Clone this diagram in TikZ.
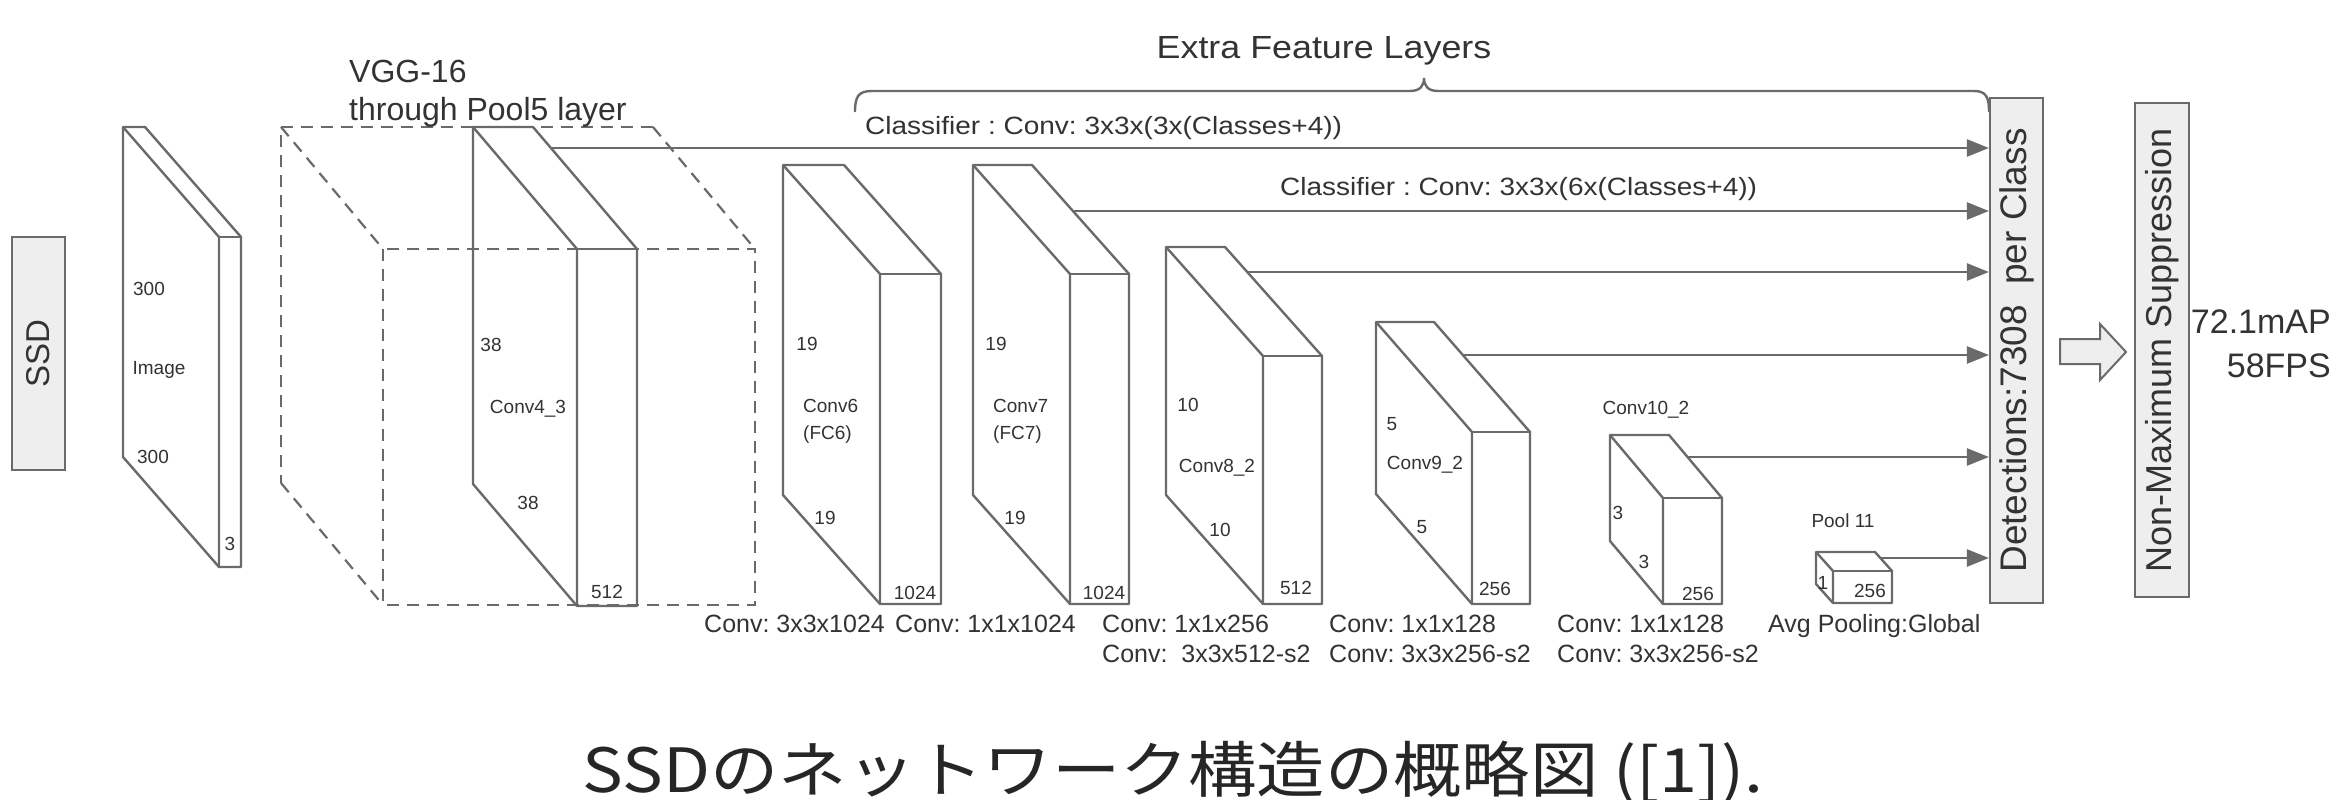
\documentclass[tikz,border=0pt]{standalone}
\usepackage{fontspec}
\setmainfont{Liberation Sans}
\newfontfamily\jpfont{Noto Sans CJK JP}
\usepackage{graphicx}
\usetikzlibrary{arrows.meta}
\definecolor{lnc}{HTML}{6A6A6A}
\definecolor{txc}{HTML}{333333}
\definecolor{boxfill}{HTML}{EEEEEE}
\newcommand\fs[1]{\fontsize{#1}{#1}\selectfont}
\newcommand\wide[1]{\scalebox{1.12}[1]{#1}}
% slab: xl, yt, w, dx, dy, yb
\newcommand\myslab[6]{%
  \draw[slabline] (#1,#2) -- (#1,#6) -- ({#1+#4},{#6+#5}) -- ({#1+#4+#3},{#6+#5})
     -- ({#1+#4+#3},{#2+#5}) -- ({#1+#3},#2) -- cycle;
  \draw[slabline] (#1,#2) -- ({#1+#4},{#2+#5}) -- ({#1+#4},{#6+#5});
  \draw[slabline] ({#1+#4},{#2+#5}) -- ({#1+#4+#3},{#2+#5});
}
\begin{document}
\frenchspacing
\begin{tikzpicture}[x=1pt,y=-1pt,
  slabline/.style={draw=lnc,line width=2.4pt,line join=round},
  dsh/.style={draw=lnc,line width=2.2pt,dash pattern=on 12pt off 8pt},
  conn/.style={draw=lnc,line width=2.6pt,-{Triangle[length=22pt,width=17pt]}},
  smalllab/.style={text=txc,font=\fs{19},inner sep=0pt,anchor=base},
  lab/.style={text=txc,font=\fs{25},inner sep=0pt,anchor=base west},
  side/.style={draw=lnc,fill=boxfill,line width=2.2pt,inner sep=0pt,text=txc},
]
\fill[white] (0,0) rectangle (2335,800);
\useasboundingbox (0,0) rectangle (2335,800);

% side boxes
\node[side, minimum width=53pt, minimum height=233pt, font=\fs{33}] (ssd) at (38.5,353.5) {\rotatebox{90}{SSD}};
\node[side, minimum width=53pt, minimum height=505pt, font=\fs{37}] (det) at (2016.5,350.5) {\rotatebox{90}{Detections:7308\ \ per Class}};
\node[side, minimum width=54pt, minimum height=494pt, font=\fs{36}] (nms) at (2162,350) {\rotatebox{90}{Non-Maximum Suppression}};
\node[text=txc, font=\fs{34}, align=right, anchor=east, inner sep=0pt] (perf) at (2331,344) {72.1mAP\\[10pt]58FPS};

% hollow arrow
\draw[draw=lnc, fill=boxfill, line width=2pt, line join=miter]
  (2060,339) -- (2100,339) -- (2100,324) -- (2126,352) -- (2100,380) -- (2100,364) -- (2060,364) -- cycle;

% VGG dashed cube
\draw[dsh] (653,127) -- (281,127) -- (281,483);
\draw[dsh] (281,127) -- (383,249);
\draw[dsh] (653,127) -- (755,249);
\draw[dsh] (281,483) -- (383,605);
\draw[dsh] (383,249) rectangle (755,605);
\node[text=txc, font=\fs{32}, anchor=base west, inner sep=0pt] (vgg1) at (349,82) {VGG-16};
\node[text=txc, font=\fs{32}, anchor=base west, inner sep=0pt] (vgg2) at (349,120) {through Pool5 layer};

% slabs
\myslab{123}{127}{22}{96}{110}{457}
\myslab{473}{127}{60}{104}{122}{484}
\myslab{783}{165}{61}{97}{109}{495}
\myslab{973}{165}{59}{97}{109}{495}
\myslab{1166}{247}{59}{97}{109}{495}
\myslab{1376}{322}{58}{96}{110}{494}
\myslab{1610}{435}{59}{53}{63}{541}
\myslab{1816}{552}{59}{17}{19}{584}

% slab labels
\node[smalllab] (i300a) at (149,295) {300};
\node[smalllab] (iimg) at (159,374) {Image};
\node[smalllab] (i300b) at (153,463) {300};
\node[smalllab] (i3) at (230,550) {3};

\node[smalllab] (c4a) at (491,351) {38};
\node[smalllab] (c4n) at (528,413) {Conv4\_3};
\node[smalllab] (c4b) at (528,509) {38};
\node[smalllab] (c4c) at (607,598) {512};

\node[smalllab] (c6a) at (807,350) {19};
\node[smalllab, anchor=base west] (c6n) at (803,412) {Conv6};
\node[smalllab, anchor=base west] (c6f) at (803,439) {(FC6)};
\node[smalllab] (c6b) at (825,524) {19};
\node[smalllab] (c6c) at (915,599) {1024};

\node[smalllab] (c7a) at (996,350) {19};
\node[smalllab, anchor=base west] (c7n) at (993,412) {Conv7};
\node[smalllab, anchor=base west] (c7f) at (993,439) {(FC7)};
\node[smalllab] (c7b) at (1015,524) {19};
\node[smalllab] (c7c) at (1104,599) {1024};

\node[smalllab] (c8a) at (1188,411) {10};
\node[smalllab] (c8n) at (1217,472) {Conv8\_2};
\node[smalllab] (c8b) at (1220,536) {10};
\node[smalllab] (c8c) at (1296,594) {512};

\node[smalllab] (c9a) at (1392,430) {5};
\node[smalllab] (c9n) at (1425,469) {Conv9\_2};
\node[smalllab] (c9b) at (1422,533) {5};
\node[smalllab] (c9c) at (1495,595) {256};

\node[smalllab] (c10n) at (1646,414) {Conv10\_2};
\node[smalllab] (c10a) at (1618,519) {3};
\node[smalllab] (c10b) at (1644,568) {3};
\node[smalllab] (c10c) at (1698,600) {256};

\node[smalllab] (p11n) at (1843,527) {Pool 11};
\node[smalllab] (p11a) at (1823,589) {1};
\node[smalllab] (p11c) at (1870,597) {256};

% bottom labels
\node[lab] (b1) at (704,632) {Conv: 3x3x1024};
\node[lab] (b2) at (895,632) {Conv: 1x1x1024};
\node[lab] (b3) at (1102,632) {Conv: 1x1x256};
\node[lab] (b3b) at (1102,662) {Conv:\ \ 3x3x512-s2};
\node[lab] (b4) at (1329,632) {Conv: 1x1x128};
\node[lab] (b4b) at (1329,662) {Conv: 3x3x256-s2};
\node[lab] (b5) at (1557,632) {Conv: 1x1x128};
\node[lab] (b5b) at (1557,662) {Conv: 3x3x256-s2};
\node[lab] (b6) at (1768,632) {Avg Pooling:Global};

% brace and top labels
\draw[draw=lnc, line width=2.4pt] (855,112) .. controls (855,97) and (858,91) .. (872,91) -- (1410,91)
  .. controls (1420,91) and (1424,86) .. (1424,78) .. controls (1424,86) and (1428,91) .. (1438,91)
  -- (1974,91) .. controls (1986,91) and (1989,97) .. (1989,112);
\node[text=txc, font=\fs{32}, anchor=base, inner sep=0pt] (extra) at (1324,59) {\wide{Extra Feature Layers}};
\node[text=txc, font=\fs{25}, anchor=base west, inner sep=0pt] (cls1) at (865,134) {\wide{Classifier : Conv: 3x3x(3x(Classes+4))}};
\node[text=txc, font=\fs{25}, anchor=base west, inner sep=0pt] (cls2) at (1280,195) {\wide{Classifier : Conv: 3x3x(6x(Classes+4))}};

% connectors
\coordinate (a4) at (551,148);
\coordinate (a7) at (1073,211);
\coordinate (a8) at (1247,272);
\coordinate (a9) at (1463,355);
\coordinate (a10) at (1687,457);
\coordinate (a11) at (1880,558);
\foreach \c in {a4,a7,a8,a9,a10,a11} {
  \draw[conn] (\c) -- (\c -| det.west);
}

% caption
\node[font=\jpfont\fs{61}, text=black!85, inner sep=0pt, anchor=base] (cap) at (1173,792) {\wide{SSDのネットワーク構造の概略図 ([1]).}};
\end{tikzpicture}
\end{document}
